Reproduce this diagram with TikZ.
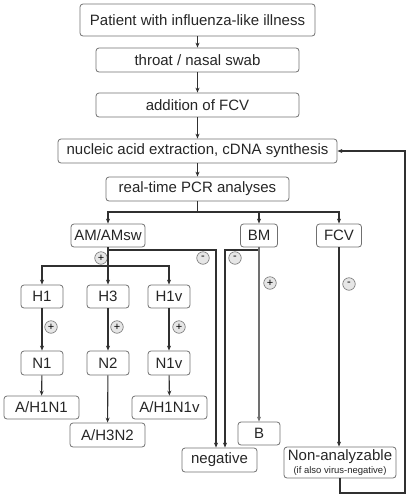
\documentclass[tikz,border=0pt]{standalone}
\usepackage{fontspec}
\setmainfont{Liberation Sans}
\usepackage{tikz}
\usetikzlibrary{arrows.meta}

\definecolor{boxgray}{HTML}{707070}
\definecolor{linegray}{HTML}{303030}
\definecolor{signfill}{HTML}{E6E6E6}

\tikzset{
	box/.style={draw=boxgray,line width=0.8pt,rounded corners=3pt,minimum height=24pt,
		inner sep=0pt,font=\fontsize{15}{17}\selectfont,text=black!85},
	arr/.style={draw=linegray,line width=1.1pt,-{Stealth[length=5pt,width=4pt]}},
	lin/.style={draw=linegray,line width=1.1pt},
	sign/.style={circle,draw=boxgray,fill=signfill,line width=0.6pt,minimum size=12.5pt,
		inner sep=0pt,font=\fontsize{11}{11}\selectfont}
}

\begin{document}
\begin{tikzpicture}[x=1pt,y=-1pt]
			\useasboundingbox (0,0) rectangle (409,498);
			\node[box,minimum width=235pt,minimum height=32pt] (patient) at (197.5,20) {Patient with influenza-like illness};
			\node[box,minimum width=203pt] (swab) at (197.5,60) {throat / nasal swab};
			\node[box,minimum width=203pt] (addfcv) at (197.5,105) {addition of FCV};
			\node[box,minimum width=279pt] (extract) at (197.5,151) {nucleic acid extraction, cDNA synthesis};
			\node[box,minimum width=183pt] (pcr) at (197.5,189) {real-time PCR analyses};
			\node[box,minimum width=74pt,minimum height=23pt] (am) at (108,235.5) {AM/AMsw};
			\node[box,minimum width=37pt,minimum height=23pt] (bm) at (259,235.5) {BM};
			\node[box,minimum width=45pt,minimum height=23pt] (fcv) at (339,235.5) {FCV};
			\node[box,minimum width=42pt,minimum height=23pt] (h1) at (42,296.5) {H1};
			\node[box,minimum width=42pt,minimum height=23pt] (h3) at (108,296.5) {H3};
			\node[box,minimum width=42pt,minimum height=23pt] (h1v) at (169,296.5) {H1v};
			\node[box,minimum width=42pt] (n1) at (42,363) {N1};
			\node[box,minimum width=42pt] (n2) at (108,363) {N2};
			\node[box,minimum width=42pt] (n1v) at (169,363) {N1v};
			\node[box,minimum width=75pt,minimum height=23pt] (ah1n1) at (41.5,407.5) {A/H1N1};
			\node[box,minimum width=75pt] (ah3n2) at (107.5,435) {A/H3N2};
			\node[box,minimum width=75pt,minimum height=23pt] (ah1n1v) at (169.5,407.5) {A/H1N1v};
			\node[box,minimum width=75pt] (neg) at (219.5,460) {negative};
			\node[box,minimum width=42pt,minimum height=23pt] (b) at (259,433.5) {B};
			\node[box,minimum width=112pt,minimum height=31pt,align=center] (nonan) at (340,462.5)
				{Non-analyzable\\[-3.5pt]{\fontsize{9.5}{10}\selectfont(if also virus-negative)}};
			\node[sign] (amplus) at (101,258) {+};
			\node[sign] (amminus) at (203,258) {-};
			\node[sign] (bmminus) at (235,258) {-};
			\node[sign] (bmplus) at (270,283) {+};
			\node[sign] (fcvminus) at (349,284) {-};
			\node[sign] (h1plus) at (51,327) {+};
			\node[sign] (h3plus) at (117,327) {+};
			\node[sign] (h1vplus) at (179,327) {+};
			\coordinate (split) at (197.5,212);
			\coordinate (amsplit) at (108,266);
			\coordinate (amneg) at (108,250);
			\coordinate (bmneg) at (259,250);
			\coordinate (back) at (405,493);
			\draw[arr] (patient) -- (swab);
			\draw[arr] (swab) -- (addfcv);
			\draw[arr] (addfcv) -- (extract);
			\draw[arr] (extract) -- (pcr);
			\draw[lin] (pcr) -- (split);
			\draw[arr] (split) -| (am);
			\draw[arr] (split) -| (bm);
			\draw[arr] (split) -| (fcv);
			\draw[lin] (am) -- (amsplit);
			\draw[arr] (amsplit) -| (h1);
			\draw[arr] (amsplit) -- (h3);
			\draw[arr] (amsplit) -| (h1v);
			\draw[arr] (amneg) -| ([xshift=-3.5pt]neg.north);
			\draw[arr] (bmneg) -| ([xshift=5.5pt]neg.north);
			\draw[arr,draw=boxgray] (bm) -- (b);
			\draw[arr] (fcv.south) -- (fcv.south |- nonan.north);
			\draw[arr] (h1) -- (n1);
			\draw[arr] (h3) -- (n2);
			\draw[arr] (h1v) -- (n1v);
			\draw[arr] (n1) -- (ah1n1);
			\draw[arr] (n2) -- (ah3n2);
			\draw[arr] (n1v) -- (ah1n1v);
			\draw[arr] (nonan) |- (back) |- (extract);
		\end{tikzpicture}
\end{document}
